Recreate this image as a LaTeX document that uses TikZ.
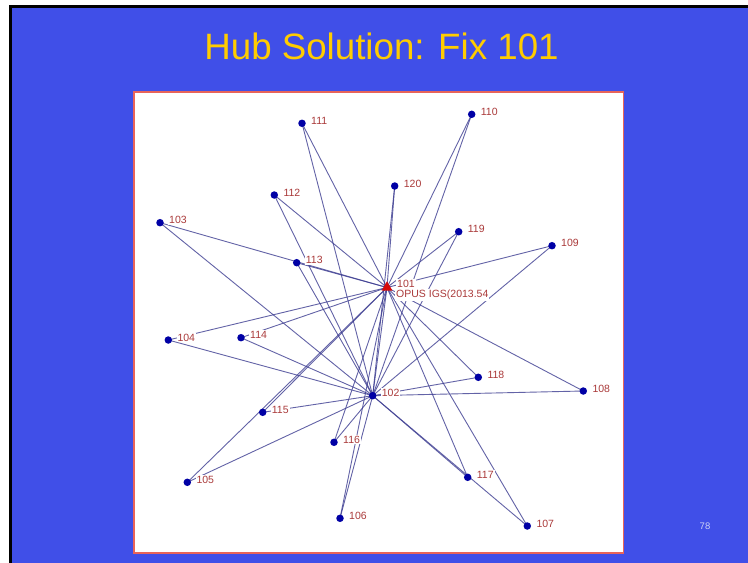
\documentclass[tikz,border=0pt]{standalone}
\usepackage{fontspec}
\setmainfont{Liberation Sans}
\usetikzlibrary{shapes.geometric}
\definecolor{slideblue}{RGB}{64,79,232}
\definecolor{titleyellow}{RGB}{255,204,0}
\definecolor{edgecol}{RGB}{60,60,145}
\definecolor{dotcol}{RGB}{0,0,165}
\definecolor{hubcol}{RGB}{215,10,10}
\definecolor{labcol}{RGB}{170,58,58}
\definecolor{framecol}{RGB}{232,100,90}
\definecolor{numcol}{RGB}{205,210,245}
\pgfdeclarelayer{bg}
\pgfdeclarelayer{edges}
\pgfdeclarelayer{labels}
\pgfsetlayers{bg,edges,labels,main}
\begin{document}
\begin{tikzpicture}[x=1pt,y=-1pt,
  dot/.style={circle,fill=dotcol,inner sep=0pt,minimum size=7.5pt},
  hub/.style={regular polygon,regular polygon sides=3,fill=hubcol,inner sep=0pt,minimum size=12.5pt},
  lab/.style={anchor=base west,fill=white,text=labcol,font=\fontsize{10.5}{12}\selectfont,inner sep=1pt},
  link/.style={draw=edgecol,line width=0.9pt,opacity=0.8}]
\useasboundingbox (0,0) rectangle (748,563);
% slide background
\begin{pgfonlayer}{bg}
\fill[white] (0,0) rectangle (748,563);
\fill[black] (8.5,5) rectangle (760,575);
\fill[slideblue] (12,7.8) rectangle (760,575);
\filldraw[fill=white,draw=framecol,line width=1.1pt] (134,92) rectangle (623.3,553);
\end{pgfonlayer}
\node[anchor=base,text=titleyellow,font=\fontsize{36.7}{40}\selectfont,inner sep=0pt] (title) at (381.5,59.3) {Hub Solution: Fix 101};
\node[text=numcol,font=\fontsize{9.5}{11}\selectfont,inner sep=0pt] (pagenum) at (705,526.7) {78};
% stations
\node[hub] (n101) at (387,287.5) {};
\node[dot] (n102) at (372.7,395.7) {};
\node[dot] (n103) at (160,222.7) {};
\node[dot] (n104) at (168.3,340) {};
\node[dot] (n105) at (187.3,482.3) {};
\node[dot] (n106) at (340,518.3) {};
\node[dot] (n107) at (527.3,526) {};
\node[dot] (n108) at (583.3,391) {};
\node[dot] (n109) at (552,245.7) {};
\node[dot] (n110) at (471.7,114.3) {};
\node[dot] (n111) at (302,123.3) {};
\node[dot] (n112) at (274.3,195) {};
\node[dot] (n113) at (296.7,262.7) {};
\node[dot] (n114) at (241,337.7) {};
\node[dot] (n115) at (262.7,412.3) {};
\node[dot] (n116) at (334,442.3) {};
\node[dot] (n117) at (467.7,477.3) {};
\node[dot] (n118) at (478.3,377.3) {};
\node[dot] (n119) at (458.7,231.7) {};
\node[dot] (n120) at (394.7,186) {};
% connectors
\begin{pgfonlayer}{edges}
\draw[link] (n101.center) -- (n102.center);
\foreach \s in {103,104,105,106,107,108,109,110,111,112,113,114,115,116,117,118,119,120}{
  \draw[link] (n\s.center) -- (n101.center);
  \draw[link] (n\s.center) -- (n102.center);
}
\end{pgfonlayer}
% labels
\begin{pgfonlayer}{labels}
\node[lab] (l101) at ([xshift=9pt,yshift=0pt]n101.center) {101};
\node[lab] (l101b) at ([xshift=8pt,yshift=-10.3pt]n101.center) {OPUS IGS(2013.54};
\foreach \s in {102,103,104,105,106,107,108,109,110,111,112,113,114,115,116,117,118,119,120}{
  \node[lab] (l\s) at ([xshift=8pt,yshift=-1pt]n\s.center) {\s};
}
\end{pgfonlayer}
\end{tikzpicture}
\end{document}
